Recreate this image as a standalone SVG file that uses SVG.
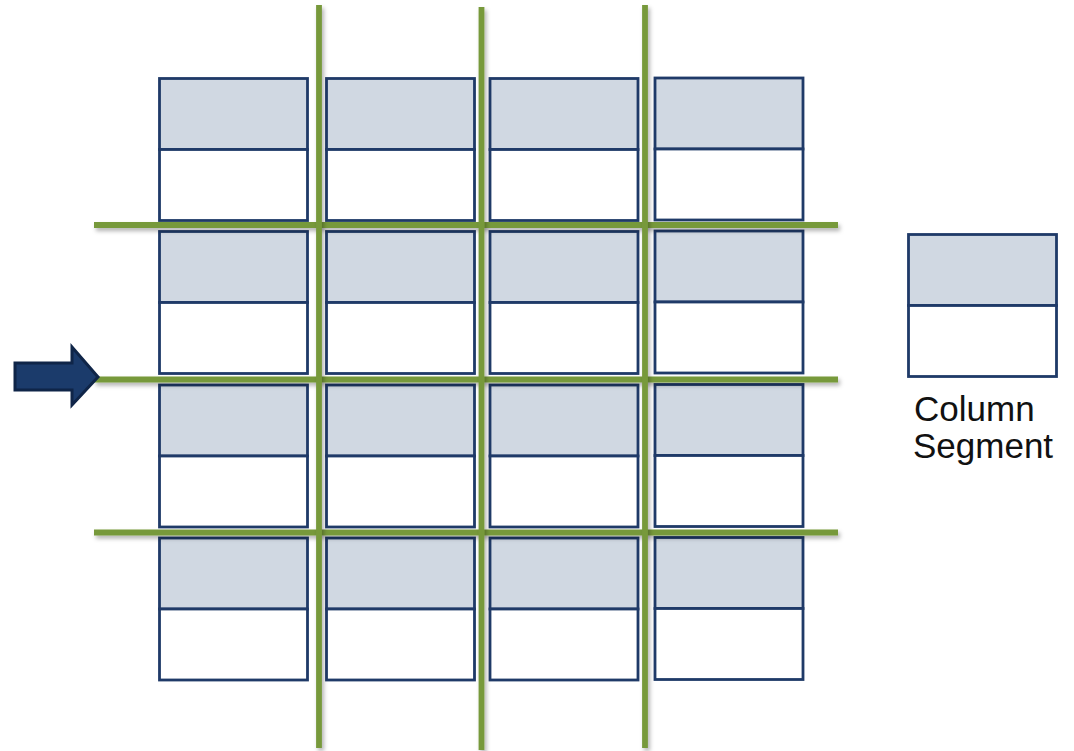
<svg xmlns="http://www.w3.org/2000/svg" width="1074" height="751" viewBox="0 0 1074 751">
<style>
.top{fill:#D0D8E2;stroke:#1F3A68;stroke-width:2.8}
.bot{fill:#FFFFFF;stroke:#1F3A68;stroke-width:2.8}
.g{stroke:#77993A;stroke-width:5.8;fill:none;filter:url(#sh)}
.lbl{font-family:"Liberation Sans",Arial,sans-serif;font-size:35px;fill:#111111}
</style>
<defs>
<filter id="sh" filterUnits="userSpaceOnUse" x="0" y="0" width="1074" height="751">
<feDropShadow dx="2" dy="3" stdDeviation="2" flood-color="#000" flood-opacity="0.3"/>
</filter>
<g id="seg">
<rect class="top" x="0" y="0" width="148" height="71"/>
<rect class="bot" x="0" y="71" width="148" height="71"/>
</g>
</defs>
<rect width="1074" height="751" fill="#FFFFFF"/>
<g id="cells">
<g id="c11"><use href="#seg" x="159.5" y="78.5"/></g>
<g id="c12"><use href="#seg" x="326.5" y="78.5"/></g>
<g id="c13"><use href="#seg" x="490" y="78.5"/></g>
<g id="c14"><use href="#seg" x="655" y="78"/></g>
<g id="c21"><use href="#seg" x="159.5" y="231.5"/></g>
<g id="c22"><use href="#seg" x="326.5" y="231.5"/></g>
<g id="c23"><use href="#seg" x="490" y="231.5"/></g>
<g id="c24"><use href="#seg" x="655" y="231"/></g>
<g id="c31"><use href="#seg" x="159.5" y="385"/></g>
<g id="c32"><use href="#seg" x="326.5" y="385"/></g>
<g id="c33"><use href="#seg" x="490" y="385"/></g>
<g id="c34"><use href="#seg" x="655" y="384.5"/></g>
<g id="c41"><use href="#seg" x="159.5" y="538"/></g>
<g id="c42"><use href="#seg" x="326.5" y="538"/></g>
<g id="c43"><use href="#seg" x="490" y="538"/></g>
<g id="c44"><use href="#seg" x="655" y="537.5"/></g>
</g>
<g id="connectors">
<line class="g" x1="94" y1="225" x2="838" y2="225"/>
<line class="g" x1="94" y1="379.5" x2="838" y2="379.5"/>
<line class="g" x1="94" y1="532.5" x2="838" y2="532.5"/>
<line class="g" x1="319" y1="5" x2="319" y2="748"/>
<line class="g" x1="481.5" y1="7" x2="481.5" y2="750"/>
<line class="g" x1="645" y1="5" x2="645" y2="748"/>
</g>
<g id="arrow">
<polygon points="15,363 72,363 72,347 98,377 72,405 72,390 15,390" fill="#1B3B6B" stroke="#0F2548" stroke-width="3" stroke-linejoin="miter"/>
</g>
<g id="legend">
<use href="#seg" x="908.5" y="234.5"/>
<text class="lbl" x="914" y="421">Column</text>
<text class="lbl" x="913" y="458">Segment</text>
</g>
</svg>
